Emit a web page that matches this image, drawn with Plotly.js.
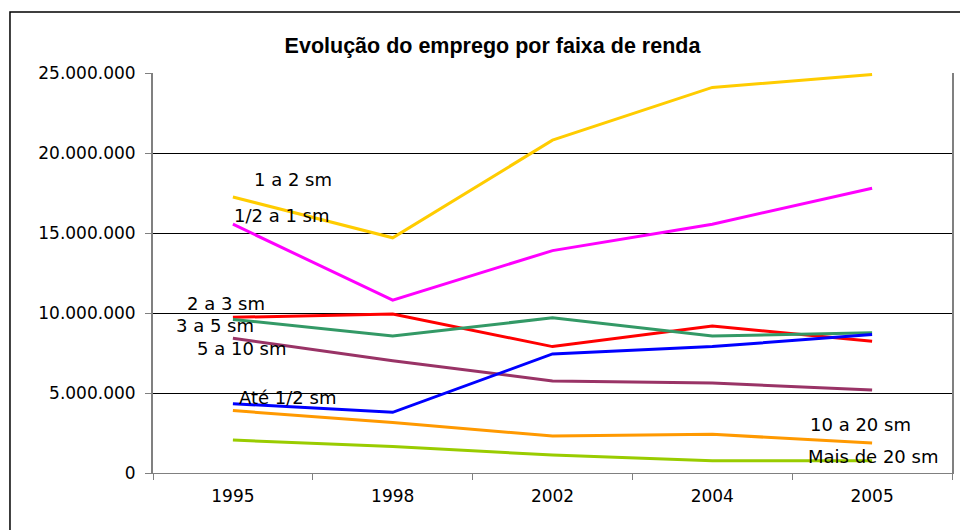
<!DOCTYPE html>
<html><head><meta charset="utf-8">
<script src="https://cdn.plot.ly/plotly-3.0.1.min.js"></script>
<style>html,body{margin:0;padding:0;background:#fff}#chart{width:960px;height:530px}</style>
</head><body><div id="chart"></div>
<script>
const years = ['1995', '1998', '2002', '2004', '2005'];
const seriesNames = ['1 a 2 sm', '1/2 a 1 sm', '2 a 3 sm', '3 a 5 sm', '5 a 10 sm', 'Até 1/2 sm', '10 a 20 sm', 'Mais de 20 sm'];
const s1a2 = [17250000, 14700000, 20800000, 24100000, 24900000];
const sMeioA1 = [15550000, 10800000, 13900000, 15550000, 17800000];
const s2a3 = [9730000, 9940000, 7900000, 9190000, 8230000];
const s3a5 = [9600000, 8560000, 9700000, 8560000, 8770000];
const s5a10 = [8420000, 7020000, 5750000, 5620000, 5190000];
const sAteMeio = [4330000, 3790000, 7440000, 7900000, 8650000];
const s10a20 = [3900000, 3150000, 2310000, 2420000, 1870000];
const sMais20 = [2060000, 1650000, 1120000, 770000, 770000];
const yTicks = [0, 5000000, 10000000, 15000000, 20000000, 25000000];

const allSeries = [s1a2, sMeioA1, s2a3, s3a5, s5a10, sAteMeio, s10a20, sMais20];
const colors = ['#FFCC00', '#FF00FF', '#FF0000', '#339966', '#993366', '#0000FF', '#FF9900', '#99CC00'];

const traces = allSeries.map((ys, i) => ({
  type: 'scatter', mode: 'lines', name: seriesNames[i],
  x: years, y: ys,
  line: {color: colors[i], width: 3},
  hoverinfo: 'skip'
}));

// label positions (category index, value)
const labelPos = [[0.375, 18.375e6], [0.307, 16.125e6], [-0.041, 10.6e6], [-0.113, 9.2e6], [0.053, 7.8e6], [0.344, 4.73e6], [3.93, 3.06e6], [4.005, 1.06e6]];
const annotations = seriesNames.map((n, i) => ({
  text: n, xref: 'x', yref: 'y', x: labelPos[i][0], y: labelPos[i][1],
  showarrow: false, font: {family: 'DejaVu Sans, sans-serif', size: 18, color: '#000'},
  xanchor: 'center', yanchor: 'middle'
}));

const layout = {
  width: 960, height: 530,
  margin: {l: 153, r: 8, t: 73, b: 57},
  paper_bgcolor: '#fff', plot_bgcolor: '#fff',
  separators: ',.',
  showlegend: false,
  font: {family: 'DejaVu Sans, sans-serif', size: 17, color: '#000'},
  title: {text: '<b>Evolução do emprego por faixa de renda</b>', x: 0.513, xanchor: 'center', y: 0.914, yanchor: 'middle',
          font: {family: 'Liberation Sans, Arial, sans-serif', size: 21.5, color: '#000'}},
  xaxis: {
    type: 'category', range: [-0.5, 4.5], showgrid: false, zeroline: false,
    showline: true, linecolor: '#808080', linewidth: 1,
    ticks: 'outside', tickson: 'boundaries', ticklen: 6, tickcolor: '#808080',
    ticklabelstandoff: 8,
    tickfont: {size: 17}, fixedrange: true
  },
  yaxis: {
    range: [0, 25000000], tickvals: yTicks, tickformat: ',d',
    showgrid: true, gridcolor: '#000', gridwidth: 1, zeroline: false,
    showline: true, linecolor: '#808080', linewidth: 2, mirror: true,
    ticks: 'outside', ticklen: 6, tickcolor: '#808080',
    ticklabelstandoff: 6,
    tickfont: {size: 17}, fixedrange: true
  },
  annotations: annotations,
  shapes: [{type: 'rect', xref: 'paper', yref: 'paper', x0: -0.179, x1: 1.2, y0: -0.4, y1: 1.1525,
            line: {color: '#000', width: 1.5}, fillcolor: 'rgba(0,0,0,0)', layer: 'below'}]
};

Plotly.newPlot('chart', traces, layout, {displayModeBar: false, staticPlot: true});
</script></body></html>
